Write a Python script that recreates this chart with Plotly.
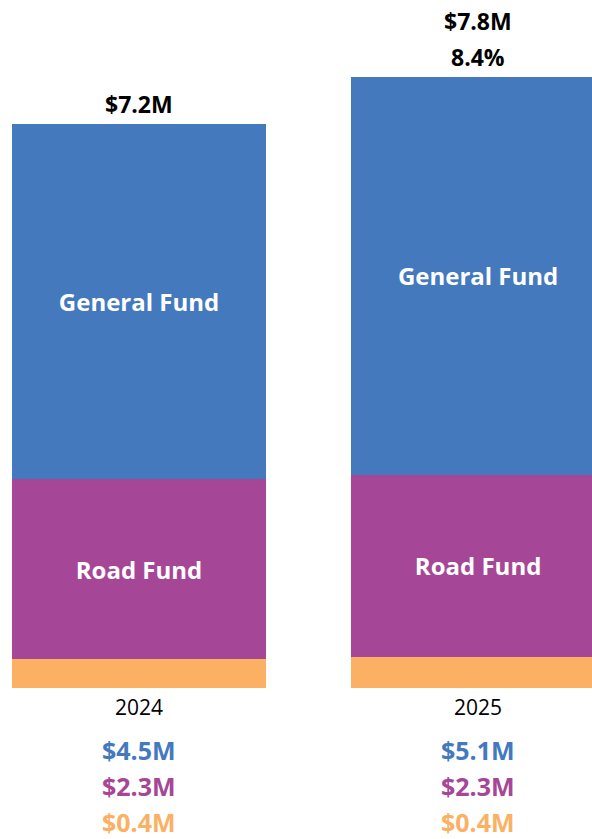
import plotly.graph_objects as go

years = ["2024", "2025"]
other = [0.37, 0.40]
road = [2.29, 2.32]
general = [4.54, 5.08]
totals = [7.2, 7.8]
growth = ["", "8.4%"]
general_lbl = ["$4.5M", "$5.1M"]
road_lbl = ["$2.3M", "$2.3M"]
other_lbl = ["$0.4M", "$0.4M"]

BLUE = "#4479BD"
PURPLE = "#A64696"
ORANGE = "#FBB064"
FONT = "Open Sans"

xs = [0, 1]
fig = go.Figure()
fig.add_bar(x=xs, y=other, marker_color=ORANGE, width=0.75, marker_line_width=0, hoverinfo="skip")
fig.add_bar(x=xs, y=road, marker_color=PURPLE, width=0.75, marker_line_width=0,
            text=["Road Fund"] * 2, textposition="inside", insidetextanchor="middle",
            textfont=dict(color="white", size=24, family=FONT, weight="bold"), hoverinfo="skip")
fig.add_bar(x=xs, y=general, marker_color=BLUE, width=0.75, marker_line_width=0,
            text=["General Fund"] * 2, textposition="inside", insidetextanchor="middle",
            textfont=dict(color="white", size=24, family=FONT, weight="bold"), hoverinfo="skip")

ann = []
for i in range(2):
    top = other[i] + road[i] + general[i]
    lines = [f"${totals[i]:.1f}M"]
    if growth[i]:
        lines.append(growth[i])
    for k, t in enumerate(reversed(lines)):
        ann.append(dict(x=xs[i], y=top, xref="x", yref="y", text=f"<b>{t}</b>", showarrow=False,
                        yanchor="middle", yshift=20 + k * 36,
                        font=dict(size=23, color="black", family=FONT)))
    ann.append(dict(x=xs[i], y=0, xref="x", yref="y", text=years[i], showarrow=False,
                    yanchor="middle", yshift=-19, font=dict(size=21, color="black", family=FONT)))
    for k, (t, c) in enumerate([(general_lbl[i], BLUE), (road_lbl[i], PURPLE), (other_lbl[i], ORANGE)]):
        ann.append(dict(x=xs[i], y=0, xref="x", yref="y", text=f"<b>{t}</b>", showarrow=False,
                        yanchor="middle", yshift=-62 - k * 36, font=dict(size=25, color=c, family=FONT)))

fig.update_layout(
    barmode="stack", width=592, height=839, showlegend=False,
    margin=dict(l=0, r=0, t=0, b=0),
    paper_bgcolor="white", plot_bgcolor="white",
    annotations=ann,
    xaxis=dict(range=[-0.41, 1.336], visible=False, fixedrange=True),
    yaxis=dict(range=[-1.926, 8.776], visible=False, fixedrange=True),
    uniformtext=dict(mode="show", minsize=8),
)
fig.write_html("out.html", config={"displayModeBar": False},
               post_script="document.body.style.margin='0';document.body.style.overflow='hidden';")
